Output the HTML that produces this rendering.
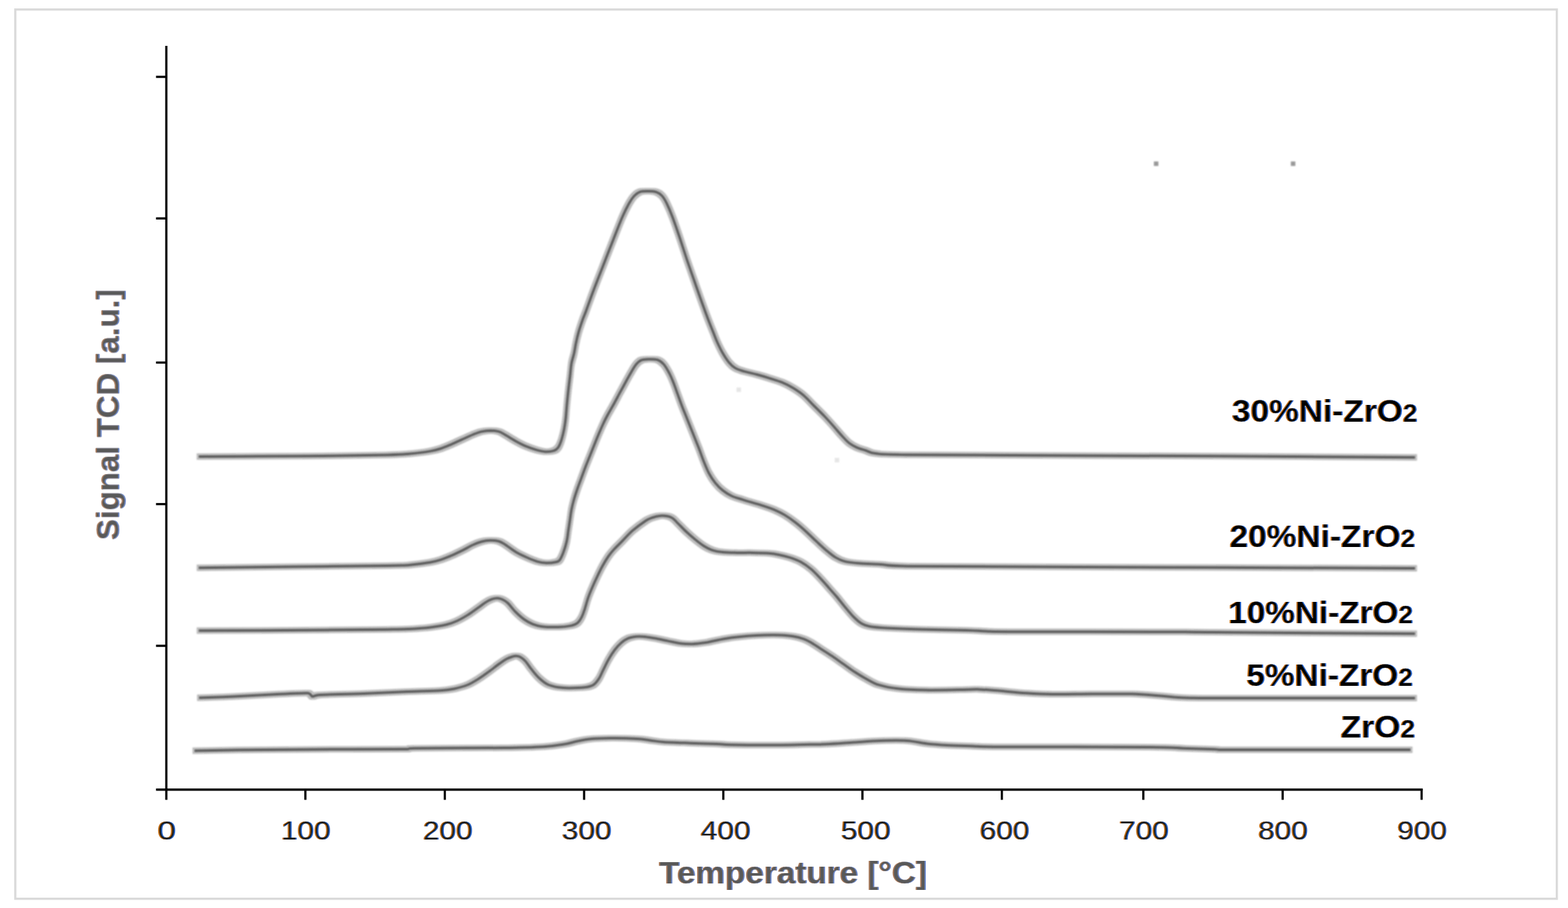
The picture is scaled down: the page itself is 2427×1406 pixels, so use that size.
<!DOCTYPE html>
<html lang="en">
<head>
<meta charset="utf-8">
<title>Signal TCD [a.u.] vs Temperature [°C]</title>
<style>
html,body{margin:0;padding:0;background:#fff;}
body{width:2427px;height:1406px;overflow:hidden;}
svg{display:block;}
text{font-family:"Liberation Sans",sans-serif;}
.tick{font-size:40.8px;fill:#1c1c1c;text-anchor:middle;}
.title{font-size:49px;font-weight:bold;fill:#595959;}
.lab{font-size:49px;font-weight:bold;fill:#000;}
.lab .sub{font-size:38.5px;}
.curve{fill:none;stroke:#5c5c5c;stroke-width:4;stroke-linecap:butt;stroke-linejoin:round;}
</style>
</head>
<body>
<svg width="2427" height="1406" viewBox="0 0 2427 1406">
<defs>
<filter id="soft" x="-2%" y="-2%" width="104%" height="104%"><feMorphology in="SourceAlpha" operator="dilate" radius="3" result="d"/><feFlood flood-color="#000" flood-opacity="0.27" result="f"/><feComposite in="f" in2="d" operator="in" result="h0"/><feGaussianBlur in="h0" stdDeviation="0.9" result="h"/><feGaussianBlur in="SourceGraphic" stdDeviation="0.8" result="c"/><feMerge><feMergeNode in="h"/><feMergeNode in="c"/></feMerge></filter>
<filter id="softdot" x="-100%" y="-100%" width="300%" height="300%"><feGaussianBlur stdDeviation="1.2"/></filter>
<filter id="ctlab" x="-5%" y="-20%" width="110%" height="140%" color-interpolation-filters="sRGB"><feOffset in="SourceAlpha" dx="0.9" dy="0" result="sr"/><feOffset in="SourceAlpha" dx="-0.9" dy="0" result="sl"/><feComposite in="sl" in2="sr" operator="out" result="le"/><feComposite in="sr" in2="sl" operator="out" result="re"/><feFlood flood-color="#c06a10" result="fo"/><feComposite in="fo" in2="le" operator="in" result="leo"/><feFlood flood-color="#2060c8" result="fb"/><feComposite in="fb" in2="re" operator="in" result="reb"/><feMerge result="m"><feMergeNode in="SourceGraphic"/><feMergeNode in="leo"/><feMergeNode in="reb"/></feMerge><feGaussianBlur in="m" stdDeviation="0.7"/></filter>
<filter id="cttick" x="-5%" y="-20%" width="110%" height="140%" color-interpolation-filters="sRGB"><feOffset in="SourceAlpha" dx="0.7" dy="0" result="sr"/><feOffset in="SourceAlpha" dx="-0.7" dy="0" result="sl"/><feComposite in="sl" in2="sr" operator="out" result="le"/><feComposite in="sr" in2="sl" operator="out" result="re"/><feFlood flood-color="#c06a10" result="fo"/><feComposite in="fo" in2="le" operator="in" result="leo"/><feFlood flood-color="#2060c8" result="fb"/><feComposite in="fb" in2="re" operator="in" result="reb"/><feMerge result="m"><feMergeNode in="SourceGraphic"/><feMergeNode in="leo"/><feMergeNode in="reb"/></feMerge><feGaussianBlur in="m" stdDeviation="0.6"/></filter>
<filter id="cttitle" x="-5%" y="-20%" width="110%" height="140%" color-interpolation-filters="sRGB"><feOffset in="SourceAlpha" dx="0.9" dy="0" result="sr"/><feOffset in="SourceAlpha" dx="-0.9" dy="0" result="sl"/><feComposite in="sl" in2="sr" operator="out" result="le"/><feComposite in="sr" in2="sl" operator="out" result="re"/><feFlood flood-color="#a87858" result="fo"/><feComposite in="fo" in2="le" operator="in" result="leo"/><feFlood flood-color="#6a86c8" result="fb"/><feComposite in="fb" in2="re" operator="in" result="reb"/><feMerge result="m"><feMergeNode in="SourceGraphic"/><feMergeNode in="leo"/><feMergeNode in="reb"/></feMerge><feGaussianBlur in="m" stdDeviation="0.7"/></filter>
</defs>
<rect x="0" y="0" width="2427" height="1406" fill="#fff"/>
<rect x="23.7" y="14.7" width="2386" height="1377" fill="none" stroke="#dadada" stroke-width="3.4"/>
<g fill="#9a9a9a" filter="url(#softdot)"><rect x="1786" y="250" width="7" height="7"/><rect x="1998" y="250" width="7" height="7"/></g>
<g fill="#e6e6e6" filter="url(#softdot)"><rect x="1140" y="600" width="7" height="7"/><rect x="1292" y="709" width="7" height="7"/></g>
<g filter="url(#soft)">
<path class="curve" d="M307.5 707.0C322.9 706.9 367.9 706.7 400.0 706.5C432.1 706.3 466.7 706.4 500.0 706.0C533.3 705.6 577.8 704.9 600.0 704.4C622.2 703.9 622.0 703.7 633.0 702.7C644.0 701.7 657.8 700.0 666.0 698.6C674.2 697.2 677.0 696.3 682.5 694.5C688.0 692.7 693.5 690.2 699.0 687.9C704.5 685.5 710.0 682.9 715.5 680.4C721.0 677.9 727.0 675.0 732.0 673.0C737.0 671.0 740.8 669.4 745.2 668.4C749.6 667.4 754.0 666.8 758.4 666.7C762.8 666.7 767.8 667.1 771.6 668.1C775.5 669.1 777.1 670.5 781.5 673.0C785.9 675.5 792.5 679.9 798.0 682.9C803.5 685.9 809.0 688.9 814.5 691.2C820.0 693.5 826.0 695.5 831.0 696.9C836.0 698.3 839.8 699.2 844.2 699.4C848.6 699.5 854.1 698.9 857.4 697.8C860.7 696.7 862.1 695.5 864.0 692.8C865.9 690.0 867.5 686.0 869.0 681.3C870.5 676.6 872.0 670.3 873.1 664.8C874.2 659.3 874.9 654.4 875.6 648.3C876.3 642.2 876.7 634.7 877.3 628.0C877.9 621.3 878.5 615.6 879.3 608.0C880.1 600.4 881.4 589.9 882.3 582.4C883.2 574.9 883.5 568.7 884.5 563.0C885.5 557.3 887.1 553.6 888.3 548.3C889.5 543.0 890.3 536.9 891.5 531.2C892.7 525.5 894.0 519.8 895.6 514.1C897.2 508.4 899.2 502.6 901.1 497.1C903.0 491.6 904.4 488.8 907.2 481.2C910.0 473.6 914.1 461.9 918.0 451.5C921.9 441.1 925.4 432.2 930.8 418.5C936.1 404.8 944.7 382.8 950.1 369.0C955.5 355.2 959.4 345.0 963.3 336.0C967.2 327.0 970.6 320.4 973.6 315.0C976.6 309.6 978.8 306.4 981.5 303.5C984.2 300.6 986.6 298.5 990.0 297.3C993.4 296.1 997.8 296.1 1002.1 296.1C1006.4 296.1 1012.1 296.2 1015.8 297.3C1019.5 298.4 1021.8 300.1 1024.5 303.0C1027.2 305.9 1029.1 309.1 1031.8 314.6C1034.5 320.1 1037.5 326.9 1040.9 336.0C1044.3 345.1 1048.7 358.0 1052.4 369.0C1056.1 380.0 1059.5 391.0 1063.2 402.0C1066.9 413.0 1070.9 424.0 1074.7 435.0C1078.5 446.0 1082.6 457.8 1086.3 468.0C1090.0 478.2 1093.9 489.0 1096.8 496.5C1099.7 504.0 1101.2 507.5 1103.4 513.0C1105.6 518.5 1107.5 524.0 1110.0 529.5C1112.5 535.0 1115.2 540.8 1118.2 546.0C1121.2 551.2 1124.8 556.9 1128.1 560.9C1131.4 564.9 1134.2 567.6 1138.0 569.9C1141.8 572.2 1145.7 573.2 1151.2 574.9C1156.7 576.5 1164.4 578.0 1171.0 579.8C1177.6 581.6 1184.2 583.5 1190.8 585.6C1197.4 587.7 1204.5 589.7 1210.6 592.2C1216.6 594.7 1221.6 597.2 1227.1 600.5C1232.6 603.8 1238.1 607.3 1243.6 612.0C1249.1 616.7 1254.6 623.0 1260.1 628.5C1265.6 634.0 1271.4 639.5 1276.6 645.0C1281.8 650.5 1287.1 656.5 1291.5 661.5C1295.9 666.5 1299.2 670.6 1303.0 674.7C1306.8 678.8 1310.8 683.3 1314.6 686.3C1318.4 689.3 1321.9 691.0 1326.1 692.9C1330.3 694.8 1335.0 695.9 1340.0 697.5C1345.0 699.1 1345.2 701.2 1356.0 702.3C1366.8 703.4 1356.0 703.5 1404.5 704.2C1491.8 704.9 1749.0 705.6 1880.0 706.3C2011.0 707.0 2138.6 708.0 2190.3 708.3"/>
<path class="curve" d="M307.5 879.3C356.2 878.7 545.8 876.6 600.0 875.9C633.0 875.2 622.0 875.8 633.0 874.9C644.0 874.0 657.8 872.2 666.0 870.8C674.2 869.4 677.0 868.5 682.5 866.7C688.0 864.9 693.5 862.6 699.0 860.2C704.5 857.8 710.0 855.1 715.5 852.4C721.0 849.7 727.0 846.1 732.0 843.8C737.0 841.5 740.8 840.0 745.2 838.8C749.6 837.6 754.0 836.8 758.4 836.7C762.8 836.6 767.8 837.0 771.6 838.0C775.5 839.0 777.1 840.2 781.5 843.0C785.9 845.8 792.5 851.2 798.0 854.5C803.5 857.8 809.0 860.3 814.5 862.8C820.0 865.3 825.8 867.8 831.0 869.3C836.2 870.8 841.0 871.6 846.0 871.8C851.0 871.9 857.3 871.0 860.7 870.2C864.1 869.4 864.6 869.6 866.5 867.0C868.4 864.4 870.5 859.3 872.3 854.5C874.1 849.7 876.0 843.5 877.2 838.0C878.4 832.5 878.9 827.0 879.7 821.5C880.5 816.0 881.4 810.5 882.2 805.0C883.0 799.5 883.6 794.0 884.7 788.5C885.8 783.0 887.2 777.5 888.8 772.0C890.4 766.5 892.3 761.0 894.2 755.5C896.1 750.0 898.3 744.5 900.3 739.0C902.3 733.5 904.3 728.0 906.4 722.5C908.5 717.0 910.8 711.5 913.0 706.0C915.2 700.5 917.4 695.0 919.6 689.5C921.8 684.0 924.0 678.4 926.3 673.0C928.6 667.6 931.0 662.0 933.3 657.0C935.6 652.0 937.8 647.8 940.3 643.0C942.8 638.2 945.6 633.7 948.6 628.3C951.6 622.9 955.0 616.4 958.2 610.4C961.5 604.4 965.1 597.7 968.1 592.2C971.1 586.7 973.5 582.1 976.3 577.4C979.0 572.7 981.9 567.5 984.6 564.2C987.4 560.9 989.5 558.9 992.8 557.6C996.1 556.3 1000.3 556.3 1004.4 556.2C1008.5 556.1 1013.8 555.9 1017.6 557.2C1021.5 558.5 1024.5 560.8 1027.5 564.2C1030.5 567.6 1033.2 572.7 1035.7 577.4C1038.2 582.1 1040.1 586.7 1042.3 592.2C1044.5 597.7 1046.7 604.4 1048.9 610.4C1051.1 616.4 1053.3 622.7 1055.5 628.5C1057.7 634.3 1059.9 639.5 1062.1 645.0C1064.3 650.5 1066.5 656.0 1068.7 661.5C1070.9 667.0 1073.1 672.5 1075.3 678.0C1077.5 683.5 1079.6 688.5 1081.9 694.5C1084.2 700.5 1086.5 707.6 1089.1 714.0C1091.7 720.4 1094.4 727.4 1097.4 733.0C1100.4 738.6 1103.7 743.5 1107.3 747.9C1110.9 752.3 1114.7 756.1 1118.8 759.4C1122.9 762.7 1127.0 765.4 1132.0 767.7C1137.0 770.0 1143.0 771.6 1148.5 773.4C1154.0 775.2 1159.5 776.8 1165.0 778.4C1170.5 780.0 1176.0 781.5 1181.5 783.3C1187.0 785.1 1192.5 786.8 1198.0 789.1C1203.5 791.5 1209.0 794.1 1214.5 797.4C1220.0 800.7 1225.5 804.6 1231.0 808.9C1236.5 813.1 1242.0 817.9 1247.5 822.9C1253.0 827.9 1258.5 833.5 1264.0 838.6C1269.5 843.7 1275.5 849.4 1280.5 853.5C1285.5 857.6 1289.3 860.8 1293.7 863.4C1298.1 866.0 1300.9 867.6 1306.9 869.1C1313.0 870.6 1320.7 871.5 1330.0 872.3C1339.3 873.1 1350.6 873.3 1363.0 874.0C1375.4 874.7 1363.0 875.9 1404.5 876.7C1490.7 877.5 1749.0 878.2 1880.0 878.8C2011.0 879.3 2138.6 879.8 2190.3 880.0"/>
<path class="curve" d="M307.5 976.6C336.1 976.5 430.4 976.1 479.2 975.8C528.0 975.5 574.4 975.0 600.0 974.7C625.6 974.4 622.0 974.5 633.0 973.9C644.0 973.3 656.4 972.5 666.0 971.4C675.6 970.3 683.9 968.9 690.8 967.3C697.7 965.6 701.8 964.0 707.3 961.5C712.8 959.0 718.3 955.8 723.8 952.4C729.3 949.0 735.6 944.2 740.3 940.9C745.0 937.6 748.2 934.8 751.8 932.6C755.4 930.4 758.7 928.8 761.7 927.7C764.7 926.7 767.2 926.2 770.0 926.3C772.8 926.4 775.5 927.2 778.2 928.5C781.0 929.8 783.2 931.1 786.5 934.3C789.8 937.5 793.9 943.4 798.0 947.5C802.1 951.6 806.8 955.9 811.2 959.0C815.6 962.1 819.7 964.5 824.4 966.4C829.1 968.3 832.7 969.4 839.3 970.2C845.9 971.0 856.6 971.2 864.0 971.0C871.4 970.8 878.8 969.9 883.8 968.9C888.8 967.9 891.0 967.0 893.7 964.8C896.5 962.6 898.4 959.4 900.3 955.7C902.2 952.0 903.6 947.5 905.3 942.5C906.9 937.5 908.3 931.5 910.2 926.0C912.1 920.5 914.4 915.0 916.8 909.5C919.1 904.0 921.7 898.5 924.3 893.0C926.9 887.5 929.6 881.8 932.5 876.5C935.4 871.2 938.6 865.8 941.6 861.5C944.6 857.2 946.9 854.4 950.5 850.5C954.1 846.6 958.2 842.8 963.0 838.0C967.8 833.2 973.0 826.9 979.2 821.6C985.4 816.3 994.9 809.4 1000.0 806.0C1005.1 802.6 1005.8 802.8 1009.9 801.5C1014.0 800.2 1019.8 798.5 1024.8 798.5C1029.8 798.5 1035.5 799.5 1039.6 801.5C1043.7 803.5 1045.7 806.9 1049.5 810.6C1053.3 814.3 1058.3 819.7 1062.7 823.8C1067.1 827.9 1071.5 831.7 1075.9 835.3C1080.3 838.9 1084.7 842.5 1089.1 845.2C1093.5 848.0 1097.3 850.1 1102.3 851.8C1107.2 853.4 1112.5 854.4 1118.8 855.1C1125.1 855.8 1132.6 855.8 1140.3 855.9C1148.0 856.0 1156.8 855.8 1165.0 855.9C1173.2 856.0 1182.9 856.2 1189.8 856.8C1196.7 857.3 1200.8 858.1 1206.3 859.2C1211.8 860.3 1217.3 861.6 1222.8 863.4C1228.3 865.2 1233.8 867.0 1239.3 870.0C1244.8 873.0 1250.6 877.1 1255.8 881.5C1261.0 885.9 1265.9 891.4 1270.6 896.4C1275.3 901.4 1279.7 906.5 1283.8 911.2C1287.9 915.9 1291.4 919.6 1295.4 924.4C1299.4 929.2 1303.7 934.9 1308.0 940.0C1312.3 945.1 1316.8 950.8 1321.0 955.0C1325.2 959.2 1329.3 963.0 1333.5 965.5C1337.7 968.0 1339.7 968.8 1346.1 970.0C1352.5 971.2 1359.2 971.8 1372.1 972.5C1385.0 973.2 1403.0 973.9 1423.6 974.5C1444.2 975.1 1478.5 975.4 1495.7 975.9C1512.9 976.4 1514.6 977.1 1526.6 977.5C1538.6 977.9 1526.6 978.1 1567.8 978.2C1613.4 978.4 1748.3 978.2 1800.0 978.4C1851.7 978.5 1812.9 978.6 1877.9 979.1C1943.0 979.6 2138.2 980.9 2190.3 981.2"/>
<path class="curve" d="M308.0 1080.5C317.1 1080.2 343.0 1079.3 362.4 1078.4C381.8 1077.5 405.6 1076.2 424.2 1075.3C442.8 1074.4 464.8 1073.4 474.0 1073.3C479.5 1073.2 477.8 1073.7 479.5 1074.5C481.2 1075.3 481.2 1078.2 484.0 1078.4C486.8 1078.7 484.0 1076.8 496.3 1076.0C510.4 1075.2 546.1 1074.5 568.4 1073.7C590.7 1072.9 611.3 1071.7 630.2 1071.0C649.1 1070.3 669.7 1070.0 681.7 1069.3C693.7 1068.6 695.3 1068.2 702.3 1066.7C709.3 1065.2 717.5 1063.0 723.8 1060.5C730.1 1058.0 734.8 1054.8 740.3 1051.4C745.8 1048.0 751.3 1043.9 756.8 1039.9C762.3 1035.9 768.6 1030.8 773.3 1027.5C778.0 1024.2 781.5 1021.9 784.8 1020.1C788.1 1018.3 790.9 1017.5 793.1 1016.8C795.3 1016.1 796.1 1015.7 798.0 1015.7C799.9 1015.8 802.1 1015.8 804.6 1017.1C807.1 1018.4 809.9 1020.1 812.9 1023.4C815.9 1026.6 819.2 1032.2 822.8 1036.6C826.4 1041.0 830.2 1045.9 834.3 1049.8C838.4 1053.7 842.5 1057.3 847.5 1059.7C852.5 1062.1 858.5 1063.3 864.0 1064.3C869.5 1065.2 873.6 1065.4 880.5 1065.4C887.4 1065.4 899.0 1065.1 905.3 1064.3C911.6 1063.5 914.9 1062.7 918.5 1060.5C922.1 1058.3 924.2 1055.1 926.7 1051.4C929.2 1047.7 930.8 1043.2 933.3 1038.2C935.8 1033.2 938.6 1027.0 941.6 1021.7C944.6 1016.4 948.2 1010.7 951.5 1006.3C954.8 1001.9 958.1 998.3 961.4 995.4C964.7 992.5 967.4 990.4 971.3 988.8C975.1 987.2 980.0 986.3 984.5 985.8C989.0 985.3 993.0 985.5 998.0 986.0C1003.0 986.5 1008.5 987.4 1014.5 988.5C1020.5 989.6 1028.0 991.3 1034.3 992.6C1040.6 993.9 1046.1 995.4 1052.4 996.2C1058.7 997.0 1065.6 997.4 1072.2 997.2C1078.8 997.0 1085.4 996.1 1092.0 995.1C1098.6 994.1 1104.9 992.3 1111.8 991.0C1118.7 989.7 1125.6 988.3 1133.3 987.3C1141.0 986.2 1149.8 985.3 1158.0 984.7C1166.2 984.1 1174.5 983.7 1182.8 983.5C1191.0 983.3 1200.1 983.2 1207.5 983.5C1214.9 983.8 1221.2 984.2 1227.3 985.2C1233.3 986.2 1238.8 987.5 1243.8 989.3C1248.8 991.1 1252.0 993.0 1257.0 995.9C1262.0 998.8 1268.0 1003.0 1273.5 1006.6C1279.0 1010.2 1284.5 1013.7 1290.0 1017.4C1295.5 1021.1 1301.0 1025.1 1306.5 1028.9C1312.0 1032.8 1317.5 1036.9 1323.0 1040.5C1328.5 1044.1 1333.2 1047.0 1339.5 1050.4C1345.8 1053.8 1351.9 1058.0 1360.6 1060.7C1369.3 1063.4 1379.5 1065.3 1391.5 1066.6C1403.5 1067.9 1417.2 1068.3 1432.7 1068.6C1448.2 1068.8 1470.5 1068.3 1484.2 1068.1C1497.9 1067.9 1504.8 1067.2 1515.1 1067.4C1525.4 1067.7 1534.0 1068.6 1546.0 1069.6C1558.0 1070.6 1573.5 1072.3 1587.2 1073.2C1600.9 1074.1 1611.2 1074.8 1628.4 1075.0C1645.6 1075.2 1669.6 1074.7 1690.2 1074.6C1710.8 1074.5 1734.8 1074.1 1752.0 1074.6C1769.2 1075.0 1781.2 1076.4 1793.2 1077.3C1805.2 1078.2 1813.0 1079.4 1824.1 1080.0C1835.2 1080.6 1834.0 1080.8 1860.0 1080.9C1886.0 1081.1 1925.0 1080.9 1980.0 1080.9C2035.0 1080.9 2155.2 1080.9 2190.2 1080.9"/>
<path class="curve" d="M301.0 1162.6C312.9 1162.4 341.9 1161.6 372.7 1161.2C403.5 1160.8 443.8 1160.6 486.0 1160.4C528.2 1160.2 600.2 1160.3 626.0 1160.0C640.5 1159.7 626.0 1159.0 640.5 1158.7C666.2 1158.4 746.5 1158.4 780.0 1158.0C813.5 1157.6 826.3 1157.1 841.8 1156.2C857.2 1155.3 864.1 1153.9 872.7 1152.5C881.3 1151.1 886.4 1149.2 893.3 1147.8C900.2 1146.4 905.3 1145.1 913.9 1144.3C922.5 1143.5 932.8 1143.2 944.8 1143.1C956.8 1143.0 975.7 1143.4 986.0 1143.9C996.3 1144.5 999.7 1145.6 1006.6 1146.4C1013.5 1147.2 1016.9 1148.3 1027.2 1149.0C1037.5 1149.7 1054.7 1150.2 1068.4 1150.7C1082.1 1151.2 1099.3 1151.6 1109.6 1152.0C1119.9 1152.4 1116.5 1152.9 1130.2 1153.2C1143.9 1153.5 1171.4 1153.9 1192.0 1153.8C1212.6 1153.7 1239.1 1153.0 1253.8 1152.8C1268.5 1152.5 1268.8 1152.8 1280.0 1152.3C1291.2 1151.8 1307.5 1150.5 1321.2 1149.6C1334.9 1148.7 1348.7 1147.4 1362.4 1147.0C1376.1 1146.6 1391.6 1146.2 1403.6 1147.0C1415.6 1147.8 1424.2 1150.3 1434.5 1151.5C1444.8 1152.7 1453.4 1153.3 1465.4 1154.0C1477.4 1154.7 1494.6 1155.0 1506.6 1155.4C1518.6 1155.8 1506.6 1156.2 1537.5 1156.4C1583.1 1156.7 1731.0 1156.5 1780.0 1156.9C1829.0 1157.3 1814.8 1158.2 1831.5 1158.7C1848.2 1159.2 1869.9 1159.8 1880.0 1160.2C1890.1 1160.6 1880.0 1160.9 1892.0 1161.0C1942.5 1161.1 2134.8 1161.0 2183.3 1161.0"/>
</g>
<g fill="#000">
<rect x="255.7" y="71" width="3.5" height="1167.5"/>
<rect x="241.5" y="1220.9" width="1960.7" height="3.6"/>
<rect x="471.0" y="1222" width="3.4" height="16.5"/>
<rect x="686.8" y="1222" width="3.4" height="16.5"/>
<rect x="902.4" y="1222" width="3.4" height="16.5"/>
<rect x="1117.9" y="1222" width="3.4" height="16.5"/>
<rect x="1333.2" y="1222" width="3.4" height="16.5"/>
<rect x="1549.0" y="1222" width="3.4" height="16.5"/>
<rect x="1768.0" y="1222" width="3.4" height="16.5"/>
<rect x="1983.6" y="1222" width="3.4" height="16.5"/>
<rect x="2198.7" y="1222" width="3.4" height="16.5"/>
<rect x="241.5" y="117.3" width="15" height="3.4"/>
<rect x="241.5" y="336.5" width="15" height="3.4"/>
<rect x="241.5" y="559.7" width="15" height="3.4"/>
<rect x="241.5" y="778.9" width="15" height="3.4"/>
<rect x="241.5" y="998.3" width="15" height="3.4"/>
</g>
<g filter="url(#cttick)">
<text class="tick" x="257.9" y="1299.6" textLength="28.5" lengthAdjust="spacingAndGlyphs">0</text>
<text class="tick" x="473.2" y="1299.6" textLength="77.0" lengthAdjust="spacingAndGlyphs">100</text>
<text class="tick" x="692.9" y="1299.6" textLength="77.0" lengthAdjust="spacingAndGlyphs">200</text>
<text class="tick" x="908.0" y="1299.6" textLength="77.0" lengthAdjust="spacingAndGlyphs">300</text>
<text class="tick" x="1123.1" y="1299.6" textLength="77.0" lengthAdjust="spacingAndGlyphs">400</text>
<text class="tick" x="1339.9" y="1299.6" textLength="77.0" lengthAdjust="spacingAndGlyphs">500</text>
<text class="tick" x="1554.8" y="1299.6" textLength="77.0" lengthAdjust="spacingAndGlyphs">600</text>
<text class="tick" x="1770.5" y="1299.6" textLength="77.0" lengthAdjust="spacingAndGlyphs">700</text>
<text class="tick" x="1985.7" y="1299.6" textLength="77.0" lengthAdjust="spacingAndGlyphs">800</text>
<text class="tick" x="2201.0" y="1299.6" textLength="77.0" lengthAdjust="spacingAndGlyphs">900</text>
</g>
<g filter="url(#cttitle)">
<text class="title" x="1020.3" y="1368.3" textLength="414.5" lengthAdjust="spacingAndGlyphs">Temperature [°C]</text>
<text class="title" transform="translate(183.8 836.3) rotate(-90)" x="0" y="0" textLength="388.5" lengthAdjust="spacingAndGlyphs">Signal TCD [a.u.]</text>
</g>
<g filter="url(#ctlab)">
<text class="lab" x="1906.8" y="652.7" textLength="287.1" lengthAdjust="spacingAndGlyphs">30%Ni-ZrO<tspan class="sub">2</tspan></text>
<text class="lab" x="1903.0" y="846.7" textLength="287.3" lengthAdjust="spacingAndGlyphs">20%Ni-ZrO<tspan class="sub">2</tspan></text>
<text class="lab" x="1901.0" y="965.4" textLength="286.0" lengthAdjust="spacingAndGlyphs">10%Ni-ZrO<tspan class="sub">2</tspan></text>
<text class="lab" x="1929.0" y="1062.3" textLength="257.8" lengthAdjust="spacingAndGlyphs">5%Ni-ZrO<tspan class="sub">2</tspan></text>
<text class="lab" x="2075.0" y="1141.6" textLength="115.3" lengthAdjust="spacingAndGlyphs">ZrO<tspan class="sub">2</tspan></text>
</g>
</svg>
</body>
</html>
